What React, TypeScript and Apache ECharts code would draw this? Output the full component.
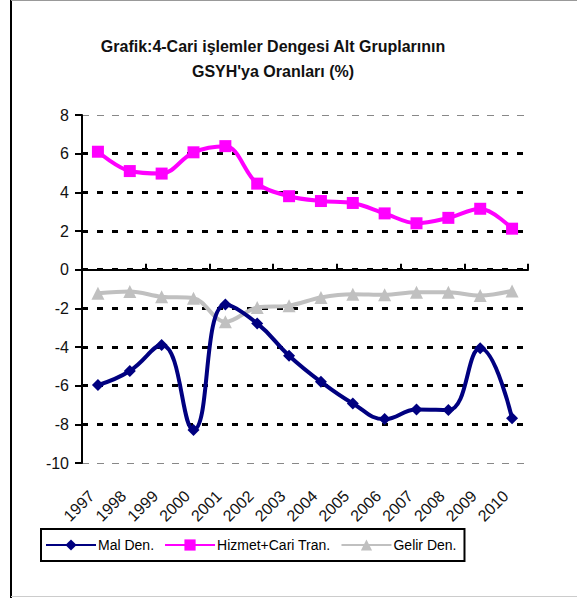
import React, { useEffect, useRef } from "react";
import * as echarts from "echarts";

const years = ["1997", "1998", "1999", "2000", "2001", "2002", "2003", "2004", "2005", "2006", "2007", "2008", "2009", "2010"];
const malDen = [-5.97, -5.24, -3.9, -8.29, -1.8, -2.78, -4.45, -5.8, -6.92, -7.73, -7.23, -7.26, -4.07, -7.69];
const hizmetCari = [6.1, 5.1, 4.97, 6.07, 6.39, 4.45, 3.8, 3.55, 3.45, 2.91, 2.4, 2.68, 3.15, 2.12];
const gelirDen = [-1.22, -1.13, -1.4, -1.48, -2.7, -1.96, -1.86, -1.44, -1.27, -1.3, -1.17, -1.17, -1.34, -1.1];
const yTicks = { min: -10, max: 8, interval: 2 };

const FONT = "'Liberation Sans', Arial, sans-serif";

export default function App() {
  const ref = useRef<HTMLDivElement>(null);
  useEffect(() => {
    if (!ref.current) return;
    const chart = echarts.init(ref.current, null, { renderer: "svg" });
    const splitColors = [];
    for (let v = yTicks.min; v <= yTicks.max; v += yTicks.interval) {
      splitColors.push(v === yTicks.min || v === yTicks.max ? "transparent" : "#000");
    }
    chart.setOption({
      animation: false,
      backgroundColor: "#fff",
      title: {
        text: "Grafik:4-Cari işlemler Dengesi Alt Gruplarının\nGSYH'ya Oranları (%)",
        left: 268,
        top: 29,
        textAlign: "center",
        textStyle: { fontFamily: FONT, fontSize: 16, fontWeight: "bold", color: "#111", lineHeight: 25 },
      },
      graphic: [
        { type: "line", shape: { x1: 11, y1: 0, x2: 11, y2: 598 }, style: { stroke: "#000", lineWidth: 2 } },
        { type: "line", shape: { x1: 11, y1: 0.5, x2: 577, y2: 0.5 }, style: { stroke: "#999", lineWidth: 1 } },
        { type: "line", shape: { x1: 11, y1: 596.5, x2: 577, y2: 596.5 }, style: { stroke: "#ccc", lineWidth: 1 } },
      ],
      legend: {
        left: 41,
        top: 529,
        borderColor: "#000",
        borderWidth: 2,
        padding: [9, 8, 9, 4],
        itemWidth: 50,
        itemHeight: 14,
        itemGap: 10,
        textStyle: { fontFamily: FONT, fontSize: 14, color: "#000", padding: [0, 0, 0, -3] },
        data: ["Mal Den.", "Hizmet+Cari Tran.", "Gelir Den."],
      },
      grid: { left: 82, right: 49, top: 115, bottom: 135 },
      xAxis: [
        {
          type: "category",
          data: years,
          position: "bottom",
          boundaryGap: true,
          axisLine: { show: false, onZero: false },
          axisTick: { show: false },
          axisLabel: { rotate: 45, margin: 24, padding: [0, 9, 0, 0], fontFamily: FONT, fontSize: 16, color: "#111" },
        },
        {
          type: "category",
          data: years,
          boundaryGap: true,
          axisLine: { show: true, onZero: true, lineStyle: { color: "#000", width: 2 } },
          axisTick: { show: true, inside: false, length: 6, lineStyle: { color: "#000", width: 2 } },
          axisLabel: { show: false },
        },
      ],
      yAxis: [
        {
          type: "value",
          min: yTicks.min,
          max: yTicks.max,
          interval: yTicks.interval,
          axisLine: { show: true, lineStyle: { color: "#000", width: 2 } },
          axisTick: { show: true, inside: false, length: 7, lineStyle: { color: "#000", width: 2 } },
          axisLabel: { margin: 13, fontFamily: FONT, fontSize: 16, color: "#111" },
          splitLine: { show: true, lineStyle: { color: splitColors, width: 3, type: [6, 9] } },
        },
        {
          type: "value",
          min: yTicks.min,
          max: yTicks.max,
          interval: yTicks.max - yTicks.min,
          axisLine: { show: false },
          axisTick: { show: false },
          axisLabel: { show: false },
          splitLine: { show: true, lineStyle: { color: "#888", width: 1, type: [7, 8] } },
        },
      ],
      series: [
        {
          name: "Mal Den.",
          type: "line",
          xAxisIndex: 0,
          yAxisIndex: 0,
          data: malDen,
          smooth: 0.45,
          symbol: "diamond",
          symbolSize: 12,
          lineStyle: { color: "#000080", width: 4 },
          itemStyle: { color: "#000080" },
          z: 4,
        },
        {
          name: "Hizmet+Cari Tran.",
          type: "line",
          xAxisIndex: 0,
          yAxisIndex: 0,
          data: hizmetCari,
          smooth: 0.35,
          symbol: "rect",
          symbolSize: 12,
          lineStyle: { color: "#FF00FF", width: 4 },
          itemStyle: { color: "#FF00FF" },
          z: 3,
        },
        {
          name: "Gelir Den.",
          type: "line",
          xAxisIndex: 0,
          yAxisIndex: 0,
          data: gelirDen,
          smooth: 0.35,
          symbol: "triangle",
          symbolSize: 13,
          lineStyle: { color: "#C0C0C0", width: 4 },
          itemStyle: { color: "#C0C0C0" },
          z: 2,
        },
      ],
    });
    return () => chart.dispose();
  }, []);
  return <div ref={ref} style={{ position: "fixed", left: 0, top: 0, width: 577, height: 598 }} />;
}
